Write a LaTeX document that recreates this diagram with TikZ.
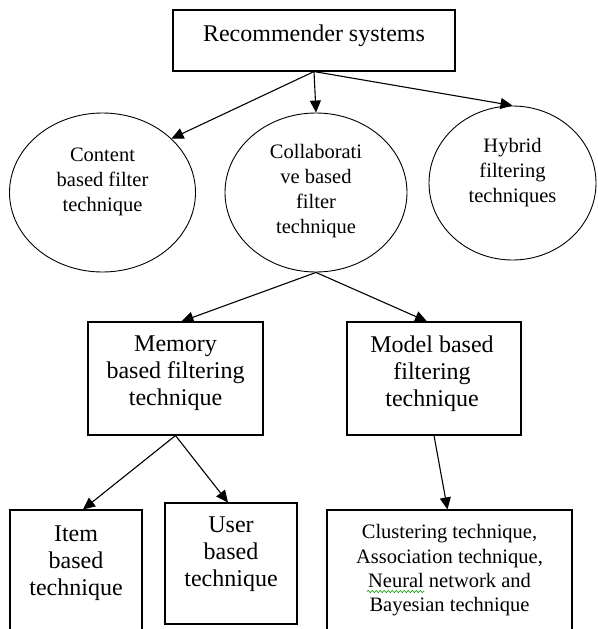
\documentclass[tikz,border=0pt]{standalone}
\usepackage{fontspec}
\setmainfont{Liberation Serif}
\usetikzlibrary{shapes.geometric,arrows.meta,decorations.pathmorphing}

\begin{document}
\begin{tikzpicture}[x=1pt,y=1pt,
  box/.style={draw,line width=1.1pt,inner sep=0pt},
  oval/.style={draw,ellipse,line width=0.9pt,inner sep=0pt},
  bigtxt/.style={align=center,inner sep=0pt,font=\fontsize{24}{27}\selectfont},
  smalltxt/.style={align=center,inner sep=0pt,font=\fontsize{20.5}{25}\selectfont},
  arr/.style={-{Triangle[length=12pt,width=11pt]},line width=1.1pt}]
\useasboundingbox (0,0) rectangle (597,-629);
\clip (0,0) rectangle (597,-629);
% top
\node[box,minimum width=282pt,minimum height=61pt] (rec) at (314,-40.5) {};
\node[bigtxt] (recT) at ([yshift=4.5pt]rec.center) {Recommender systems};
% filtering families
\node[oval,minimum width=186pt,minimum height=159pt] (content) at (102.5,-192.5) {};
\node[oval,minimum width=182pt,minimum height=159pt] (collab) at (316,-192.5) {};
\node[oval,minimum width=167pt,minimum height=154pt] (hybrid) at (512.5,-183) {};
\node[smalltxt] (contentT) at ([yshift=11pt]content.center) {Content\\based filter\\technique};
\node[smalltxt] (collabT) at ([yshift=1pt]collab.center) {Collaborati\\ve based\\filter\\technique};
\node[smalltxt] (hybridT) at ([yshift=10.5pt]hybrid.center) {Hybrid\\filtering\\techniques};
% collaborative branches
\node[box,minimum width=175pt,minimum height=113pt] (mem) at (175.5,-378.5) {};
\node[box,minimum width=174pt,minimum height=113pt] (model) at (434,-378.5) {};
\node[bigtxt] (memT) at ([yshift=5pt]mem.center) {Memory\\based filtering\\technique};
\node[bigtxt] (modelT) at ([xshift=-2pt,yshift=5pt]model.center) {Model based\\filtering\\technique};
% leaves
\node[box,minimum width=132pt,minimum height=130pt] (item) at (76,-575) {};
\node[box,minimum width=132pt,minimum height=121pt] (user) at (231,-563.5) {};
\node[box,minimum width=245pt,minimum height=130pt] (cluster) at (449.5,-575) {};
\node[bigtxt] (itemT) at ([yshift=11.5pt]item.center) {Item\\based\\technique};
\node[bigtxt] (userT) at ([yshift=9pt]user.center) {User\\based\\technique};
\node[smalltxt,font=\fontsize{20.5}{24.3}\selectfont] (clusterT) at ([yshift=4.5pt]cluster.center)
  {Clustering technique,\\Association technique,\\Neural network and\\Bayesian technique};
\draw[green!60!black,line width=0.6pt,decorate,decoration={snake,amplitude=1.1pt,segment length=4pt}]
  (367,-591.5) -- (424,-591.5);
% arrows
\begin{scope}[arr]
\draw (rec.south) -- (content.38);
\draw (rec.south) -- (collab.north);
\draw (rec.south) -- (hybrid.north);
\draw (collab.south) -- ([xshift=6pt]mem.north);
\draw (collab.south) -- ([xshift=-7pt]model.north);
\draw (mem.south) -- ([xshift=7pt]item.north);
\draw (mem.south) -- ([xshift=-3pt]user.north);
\draw (model.south) -- ([xshift=-2pt]cluster.north);
\end{scope}
\end{tikzpicture}
\end{document}
